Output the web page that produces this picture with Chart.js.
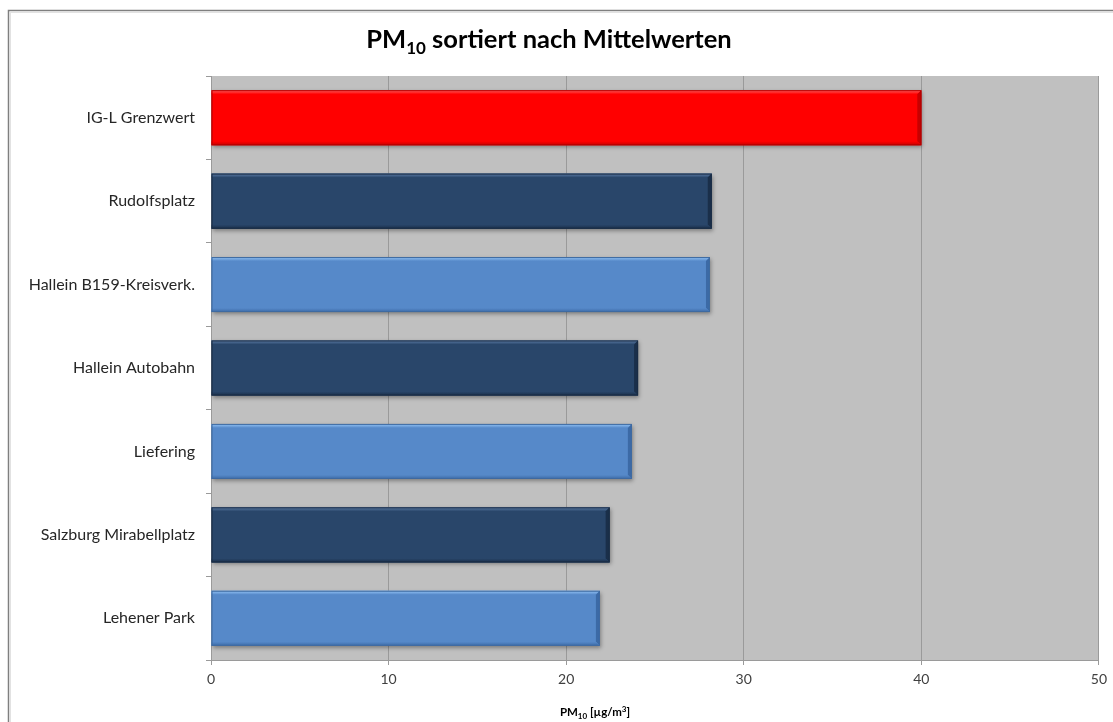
<!DOCTYPE html>
<html lang="de">
<head>
<meta charset="utf-8">
<title>PM10 sortiert nach Mittelwerten</title>
<script src="https://cdn.jsdelivr.net/npm/chart.js@4/dist/chart.umd.min.js"></script>
<style>
    html, body { margin: 0; padding: 0; background: #ffffff; }
    #pmChart { display: block; }
</style>
</head>
<body>
<canvas id="pmChart" width="1113" height="722"></canvas>
<script>
// Stations, top to bottom, with their PM10 annual means in µg/m³
const stations = [
    'IG-L Grenzwert',
    'Rudolfsplatz',
    'Hallein B159-Kreisverk.',
    'Hallein Autobahn',
    'Liefering',
    'Salzburg Mirabellplatz',
    'Lehener Park'
];
const meanValues = [40, 28.2, 28.1, 24.05, 23.7, 22.45, 21.9];

// Axis range (µg/m³)
const axisMin = 0;
const axisMax = 50;
const axisStep = 10;

// Bar fill per station: limit value in red, then alternating navy / light blue
const RED = { fill: '#ff0000', light: '#ff6464', dark: '#c80000', edge: '#b40000' };
const NAVY = { fill: '#29466a', light: '#5e7ea8', dark: '#1a2f4a', edge: '#1a2c44' };
const BLUE = { fill: '#5689c9', light: '#96c6f8', dark: '#3c6aa6', edge: '#3f6aa0' };
const barStyles = [RED, NAVY, BLUE, NAVY, BLUE, NAVY, BLUE];

const FONT = "Lato, 'Open Sans', sans-serif";

// Draws a run of text pieces where some pieces are sub- or superscript
function drawRichText(ctx, parts, centerX, baseline, size, weight, color) {
    const small = Math.round(size * 0.68);
    const fontFor = (p) => `${weight} ${p.sub || p.sup ? small : size}px ${FONT}`;
    let total = 0;
    parts.forEach(p => {
        ctx.font = fontFor(p);
        p.w = ctx.measureText(p.t).width;
        total += p.w;
    });
    let x = centerX - total / 2;
    ctx.fillStyle = color;
    ctx.textAlign = 'left';
    ctx.textBaseline = 'alphabetic';
    parts.forEach(p => {
        ctx.font = fontFor(p);
        let y = baseline;
        if (p.sub) y += size * 0.22;
        if (p.sup) y -= size * 0.38;
        ctx.fillText(p.t, x, y);
        x += p.w;
    });
}

// Outer frame and grey plot background
const backdropPlugin = {
    id: 'backdrop',
    beforeDraw(chart) {
        const ctx = chart.ctx;
        const area = chart.chartArea;
        ctx.save();
        ctx.fillStyle = '#ffffff';
        ctx.fillRect(0, 0, chart.width, chart.height);
        ctx.strokeStyle = '#7f7f7f';
        ctx.lineWidth = 1.5;
        ctx.strokeRect(8.5, 10.5, chart.width + 20, chart.height + 20);
        ctx.strokeStyle = '#e2e2e2';
        ctx.lineWidth = 1;
        ctx.strokeRect(10.5, 12.5, chart.width + 20, chart.height + 20);
        ctx.fillStyle = '#c0c0c0';
        ctx.fillRect(area.left, area.top, area.right - area.left, area.bottom - area.top);
        ctx.restore();
    }
};

// Drop shadow under the bars, then a bevelled edge on top of each one
const bevelPlugin = {
    id: 'bevel',
    beforeDatasetsDraw(chart) {
        const ctx = chart.ctx;
        ctx.save();
        ctx.shadowColor = 'rgba(0, 0, 0, 0.35)';
        ctx.shadowBlur = 4;
        ctx.shadowOffsetX = 1;
        ctx.shadowOffsetY = 2;
    },
    afterDatasetsDraw(chart) {
        const ctx = chart.ctx;
        ctx.restore();
        const meta = chart.getDatasetMeta(0);
        const b = 4;
        ctx.save();
        meta.data.forEach((bar, i) => {
            const s = barStyles[i];
            const p = bar.getProps(['x', 'y', 'base', 'height'], true);
            const left = Math.min(p.base, p.x);
            const right = Math.max(p.base, p.x);
            const top = p.y - p.height / 2;
            const bottom = p.y + p.height / 2;

            // top highlight
            const g = ctx.createLinearGradient(0, top, 0, top + b);
            g.addColorStop(0, s.light);
            g.addColorStop(1, s.fill);
            ctx.fillStyle = g;
            ctx.beginPath();
            ctx.moveTo(left, top);
            ctx.lineTo(right, top);
            ctx.lineTo(right - b, top + b);
            ctx.lineTo(left, top + b);
            ctx.closePath();
            ctx.fill();

            // right edge
            ctx.fillStyle = s.dark;
            ctx.beginPath();
            ctx.moveTo(right, top);
            ctx.lineTo(right, bottom);
            ctx.lineTo(right - b, bottom - b);
            ctx.lineTo(right - b, top + b);
            ctx.closePath();
            ctx.fill();

            // bottom edge
            const g2 = ctx.createLinearGradient(0, bottom - b, 0, bottom);
            g2.addColorStop(0, s.fill);
            g2.addColorStop(1, s.dark);
            ctx.fillStyle = g2;
            ctx.beginPath();
            ctx.moveTo(left, bottom);
            ctx.lineTo(right, bottom);
            ctx.lineTo(right - b, bottom - b);
            ctx.lineTo(left, bottom - b);
            ctx.closePath();
            ctx.fill();

            // outline
            ctx.strokeStyle = s.edge;
            ctx.lineWidth = 1;
            ctx.strokeRect(left + 0.5, top + 0.5, right - left - 1, bottom - top - 1);
        });
        ctx.restore();
    }
};

// Chart title and x axis title, both with a subscript
const titlesPlugin = {
    id: 'titles',
    afterDraw(chart) {
        const ctx = chart.ctx;
        ctx.save();
        drawRichText(ctx, [
            { t: 'PM' }, { t: '10', sub: true }, { t: ' sortiert nach Mittelwerten' }
        ], 549, 48, 25.5, 'bold', '#000000');
        drawRichText(ctx, [
            { t: 'PM' }, { t: '10', sub: true }, { t: ' [µg/m' }, { t: '3', sup: true }, { t: ']' }
        ], 595, 716, 11.5, 'bold', '#000000');
        ctx.restore();
    }
};

const chart = new Chart(document.getElementById('pmChart'), {
    type: 'bar',
    data: {
        labels: stations,
        datasets: [{
            data: meanValues,
            backgroundColor: barStyles.map(s => s.fill),
            borderWidth: 0,
            barPercentage: 0.66,
            categoryPercentage: 1
        }]
    },
    options: {
        indexAxis: 'y',
        responsive: false,
        devicePixelRatio: 1,
        animation: false,
        layout: {
            padding: { left: 0, top: 76, right: 13, bottom: 0 }
        },
        plugins: {
            legend: { display: false },
            title: { display: false },
            tooltip: { enabled: false }
        },
        scales: {
            x: {
                min: axisMin,
                max: axisMax,
                ticks: {
                    stepSize: axisStep,
                    padding: 6,
                    color: '#404040',
                    font: { family: FONT, size: 14 }
                },
                grid: {
                    color: '#9a9a9a',
                    lineWidth: 1,
                    drawTicks: true,
                    tickLength: 5,
                    tickColor: '#9a9a9a'
                },
                border: { display: true, color: '#9a9a9a' },
                afterFit(scale) { scale.height = 62; }
            },
            y: {
                ticks: {
                    padding: 11,
                    color: '#262626',
                    font: { family: FONT, size: 16 }
                },
                grid: {
                    offset: true,
                    drawOnChartArea: false,
                    drawTicks: true,
                    tickLength: 5,
                    color: '#9a9a9a'
                },
                border: { display: true, color: '#9a9a9a' },
                afterFit(scale) { scale.width = 211; }
            }
        }
    },
    plugins: [backdropPlugin, bevelPlugin, titlesPlugin]
});
</script>
</body>
</html>
